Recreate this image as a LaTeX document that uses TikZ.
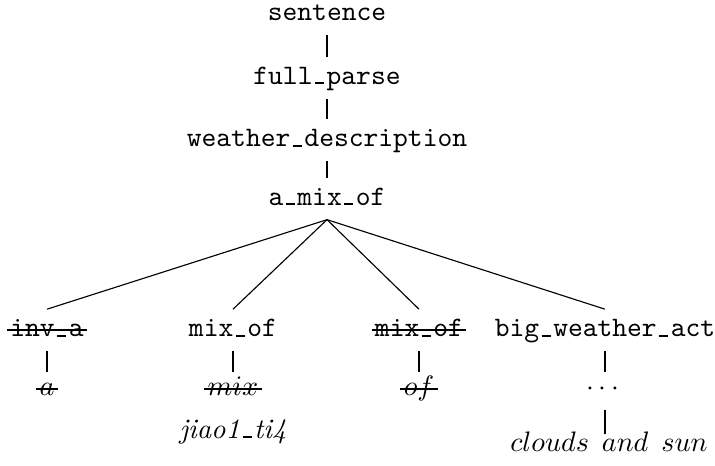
\documentclass[tikz,border=0pt]{standalone}
\usepackage{amsmath}
\usepackage{tikz}

% short rule underscore in a full character slot
\newcommand{\us}{\makebox[.5em]{\vbox{\hrule height .6pt width .32em}}}

\begin{document}
\begin{tikzpicture}[
    x=0.355pt, y=-0.355pt,
    cat/.style={anchor=base, font=\ttfamily, text height=6.5pt, text depth=2pt, inner xsep=1pt, inner ysep=3pt},
    lex/.style={anchor=base, text height=5pt, text depth=2pt, inner xsep=1pt, inner ysep=3pt},
    struck/.style={append after command={(\tikzlastnode.mid west) edge[line width=0.7pt] (\tikzlastnode.mid east)}},
    link/.style={line width=0.7pt},
    branch/.style={line width=0.4pt}
]
\useasboundingbox (0,0) rectangle (715,465);

% Spine of the parse
\node[cat] (sent) at (327,20) {sentence};
\node[cat] (full) at (327,84) {full\us parse};
\node[cat] (weather) at (327,146.5) {weather\us description};
\node[cat] (amix) at (327,205) {a\us mix\us of};

% Daughters of a_mix_of
\node[cat, struck] (inv) at (47,336.5) {inv\us a};
\node[cat] (mixof) at (233,336.5) {mix\us of};
\node[cat, struck] (mixofx) at (419,336.5) {mix\us of};
\node[cat] (bigw) at (605,336.5) {big\us weather\us act};

% Words
\node[lex, struck] (wa) at (47,395) {$a$};
\node[lex, struck] (wmix) at (233,395) {$mix$};
\node[lex] (jiao) at (233,438) {\textit{jiao1\us ti4}};
\node[lex, struck] (wof) at (419,395) {$of$};
\node[lex] (dots) at (605,395) {$\cdots$};
\node[lex] (clouds) at (609,451) {$clouds\hspace{4.6pt}and\hspace{4.6pt}sun$};

% Connections
\draw[link] (sent.south) -- (full.north);
\draw[link] (full.south) -- (weather.north);
\draw[link] (weather.south) -- (amix.north);

\draw[branch] (amix.south) -- (inv.north);
\draw[branch] (amix.south) -- (mixof.north);
\draw[branch] (amix.south) -- (mixofx.north);
\draw[branch] (amix.south) -- (bigw.north);

\draw[link] (inv.south) -- (wa.north);
\draw[link] (mixof.south) -- (wmix.north);
\draw[link] (mixofx.south) -- (wof.north);
\draw[link] (bigw.south) -- (dots.north);
\draw[link, shorten >=-2.2pt] (dots.south) -- (dots.south |- clouds.north);

\end{tikzpicture}
\end{document}
